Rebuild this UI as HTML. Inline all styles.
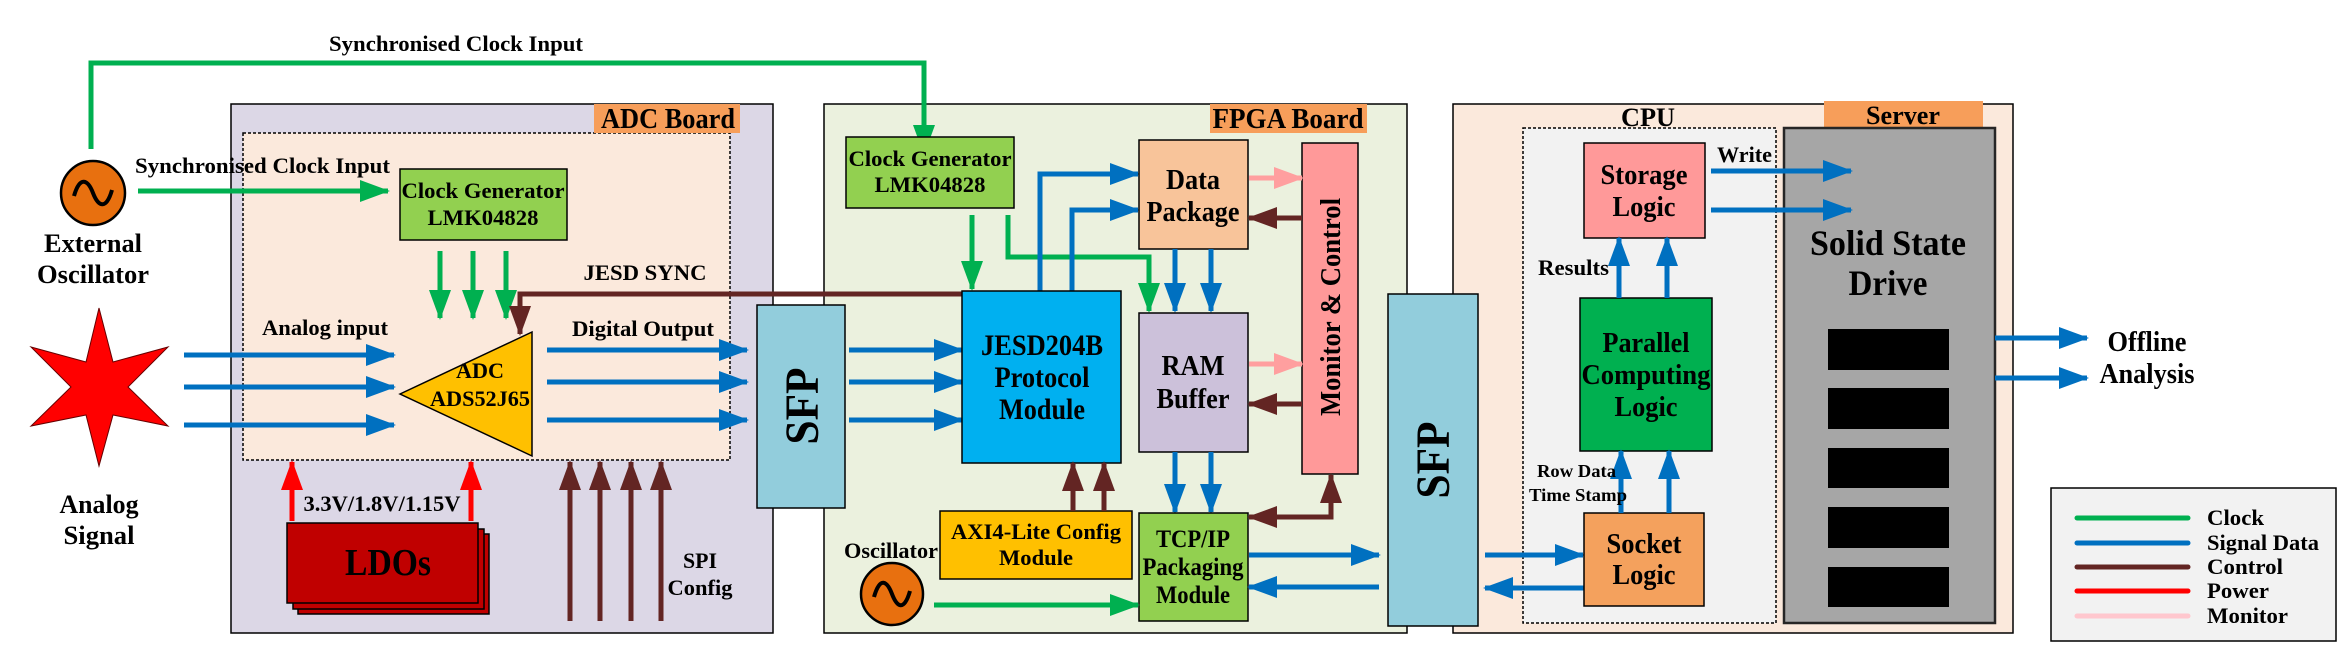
<!DOCTYPE html>
<html><head><meta charset="utf-8"><style>
html,body{margin:0;padding:0;background:#fff;}
svg{display:block;font-family:"Liberation Serif","Times New Roman",serif;}
svg text{font-family:"Liberation Serif","Times New Roman",serif !important;font-weight:bold;fill:#000;}
</style></head><body>
<svg width="2352" height="667" viewBox="0 0 2352 667" xmlns="http://www.w3.org/2000/svg" font-family="Liberation Serif, Times New Roman, serif" font-weight="bold">
<defs>
<marker id="g" markerUnits="userSpaceOnUse" markerWidth="30" markerHeight="22" refX="28" refY="11" orient="auto"><path d="M0,0L30,11L0,22z" fill="#00b050"/></marker>
<marker id="b" markerUnits="userSpaceOnUse" markerWidth="30" markerHeight="22" refX="28" refY="11" orient="auto"><path d="M0,0L30,11L0,22z" fill="#0070c0"/></marker>
<marker id="br" markerUnits="userSpaceOnUse" markerWidth="30" markerHeight="22" refX="28" refY="11" orient="auto"><path d="M0,0L30,11L0,22z" fill="#632523"/></marker>
<marker id="r" markerUnits="userSpaceOnUse" markerWidth="30" markerHeight="22" refX="28" refY="11" orient="auto"><path d="M0,0L30,11L0,22z" fill="#ff0000"/></marker>
<marker id="p" markerUnits="userSpaceOnUse" markerWidth="30" markerHeight="22" refX="28" refY="11" orient="auto"><path d="M0,0L30,11L0,22z" fill="#ff9f9f"/></marker>
</defs>

<rect x="231" y="104" width="542" height="529" fill="#dcd7e6" stroke="#000" stroke-width="1.5"/>
<rect x="243" y="133" width="487" height="327" fill="#fbe9dc" stroke="#000" stroke-width="1.5" stroke-dasharray="3,2"/>
<rect x="594" y="104" width="146" height="29" fill="#f79e5a"/>
<text x="668" y="128" font-size="28" text-anchor="middle" textLength="134" lengthAdjust="spacingAndGlyphs">ADC Board</text>

<rect x="824" y="104" width="583" height="529" fill="#ebf1de" stroke="#000" stroke-width="1.5"/>
<rect x="1210" y="104" width="157" height="29" fill="#f79e5a"/>
<text x="1288" y="128" font-size="28" text-anchor="middle" textLength="151" lengthAdjust="spacingAndGlyphs">FPGA Board</text>

<rect x="1453" y="104" width="560" height="529" fill="#fbe9dc" stroke="#000" stroke-width="1.5"/>
<rect x="1523" y="128" width="253" height="495" fill="#f2f2f2" stroke="#000" stroke-width="1.5" stroke-dasharray="3,2"/>
<text x="1648" y="126" font-size="26" text-anchor="middle" textLength="54" lengthAdjust="spacingAndGlyphs">CPU</text>
<rect x="1824" y="101" width="159" height="27" fill="#f79e5a"/>
<text x="1903" y="124" font-size="26" text-anchor="middle" textLength="74" lengthAdjust="spacingAndGlyphs">Server</text>

<polyline points="91,149 91,63 924,63 924,153" fill="none" stroke="#00b050" stroke-width="5" marker-end="url(#g)"/>
<text x="456" y="51" font-size="22" text-anchor="middle" textLength="254" lengthAdjust="spacingAndGlyphs">Synchronised Clock Input</text>

<circle cx="93" cy="193" r="32" fill="#e8700f" stroke="#000" stroke-width="2.5"/>
<path d="M74,196 C80,175 88,180 93,193 C98,206 106,211 112,190" fill="none" stroke="#000" stroke-width="4"/>
<text x="93" y="252" font-size="26" text-anchor="middle" textLength="98" lengthAdjust="spacingAndGlyphs">External</text>
<text x="93" y="283" font-size="26" text-anchor="middle" textLength="112" lengthAdjust="spacingAndGlyphs">Oscillator</text>
<line x1="138" y1="191" x2="388" y2="191" stroke="#00b050" stroke-width="5" marker-end="url(#g)"/>
<text x="135" y="173" font-size="22" textLength="255" lengthAdjust="spacingAndGlyphs">Synchronised Clock Input</text>

<rect x="400" y="169" width="167" height="71" fill="#92d050" stroke="#000" stroke-width="1.5"/>
<text x="483" y="198" font-size="22" text-anchor="middle" textLength="163" lengthAdjust="spacingAndGlyphs">Clock Generator</text>
<text x="483" y="225" font-size="22" text-anchor="middle" textLength="111" lengthAdjust="spacingAndGlyphs">LMK04828</text>
<line x1="440" y1="251" x2="440" y2="318" stroke="#00b050" stroke-width="5" marker-end="url(#g)"/>
<line x1="473" y1="251" x2="473" y2="318" stroke="#00b050" stroke-width="5" marker-end="url(#g)"/>
<line x1="506" y1="251" x2="506" y2="318" stroke="#00b050" stroke-width="5" marker-end="url(#g)"/>

<polygon points="99,308 113,362 168,347 128,387 168,426 113,415 99,466 86,415 31,426 71,387 31,347 86,362" fill="#ff0000" stroke="#600" stroke-width="1"/>
<text x="99" y="513" font-size="26" text-anchor="middle" textLength="79" lengthAdjust="spacingAndGlyphs">Analog</text>
<text x="99" y="544" font-size="26" text-anchor="middle" textLength="71" lengthAdjust="spacingAndGlyphs">Signal</text>

<line x1="184" y1="355" x2="394" y2="355" stroke="#0070c0" stroke-width="5" marker-end="url(#b)"/>
<line x1="184" y1="387" x2="394" y2="387" stroke="#0070c0" stroke-width="5" marker-end="url(#b)"/>
<line x1="184" y1="425" x2="394" y2="425" stroke="#0070c0" stroke-width="5" marker-end="url(#b)"/>
<text x="325" y="335" font-size="22" text-anchor="middle" textLength="126" lengthAdjust="spacingAndGlyphs">Analog input</text>

<polygon points="400,394 532,332 532,456" fill="#ffc000" stroke="#000" stroke-width="1.5"/>
<text x="480" y="378" font-size="22" text-anchor="middle" textLength="48" lengthAdjust="spacingAndGlyphs">ADC</text>
<text x="480" y="406" font-size="22" text-anchor="middle" textLength="100" lengthAdjust="spacingAndGlyphs">ADS52J65</text>

<polyline points="962,294 520,294 520,334" fill="none" stroke="#632523" stroke-width="5" marker-end="url(#br)"/>
<text x="645" y="280" font-size="22" text-anchor="middle" textLength="123" lengthAdjust="spacingAndGlyphs">JESD SYNC</text>

<line x1="547" y1="350" x2="747" y2="350" stroke="#0070c0" stroke-width="5" marker-end="url(#b)"/>
<line x1="547" y1="382" x2="747" y2="382" stroke="#0070c0" stroke-width="5" marker-end="url(#b)"/>
<line x1="547" y1="420" x2="747" y2="420" stroke="#0070c0" stroke-width="5" marker-end="url(#b)"/>
<text x="643" y="336" font-size="22" text-anchor="middle" textLength="142" lengthAdjust="spacingAndGlyphs">Digital Output</text>

<line x1="292" y1="521" x2="292" y2="462" stroke="#ff0000" stroke-width="5" marker-end="url(#r)"/>
<line x1="471" y1="521" x2="471" y2="462" stroke="#ff0000" stroke-width="5" marker-end="url(#r)"/>
<text x="382" y="511" font-size="22" text-anchor="middle" textLength="157" lengthAdjust="spacingAndGlyphs">3.3V/1.8V/1.15V</text>
<rect x="298" y="534" width="191" height="80" fill="#c00000" stroke="#000" stroke-width="1.5"/>
<rect x="293" y="529" width="191" height="80" fill="#c00000" stroke="#000" stroke-width="1.5"/>
<rect x="287" y="523" width="191" height="80" fill="#c00000" stroke="#000" stroke-width="1.5"/>
<text x="388" y="575" font-size="38" text-anchor="middle" textLength="86" lengthAdjust="spacingAndGlyphs">LDOs</text>

<line x1="570" y1="621" x2="570" y2="462" stroke="#632523" stroke-width="5" marker-end="url(#br)"/>
<line x1="600" y1="621" x2="600" y2="462" stroke="#632523" stroke-width="5" marker-end="url(#br)"/>
<line x1="631" y1="621" x2="631" y2="462" stroke="#632523" stroke-width="5" marker-end="url(#br)"/>
<line x1="661" y1="621" x2="661" y2="462" stroke="#632523" stroke-width="5" marker-end="url(#br)"/>
<text x="700" y="568" font-size="22" text-anchor="middle" textLength="34" lengthAdjust="spacingAndGlyphs">SPI</text>
<text x="700" y="595" font-size="22" text-anchor="middle" textLength="65" lengthAdjust="spacingAndGlyphs">Config</text>

<rect x="757" y="305" width="88" height="203" fill="#92cddc" stroke="#000" stroke-width="1.5"/>
<text transform="translate(818,406) rotate(-90)" x="0" y="0" font-size="48" text-anchor="middle" textLength="77" lengthAdjust="spacingAndGlyphs">SFP</text>

<rect x="846" y="137" width="168" height="71" fill="#92d050" stroke="#000" stroke-width="1.5"/>
<text x="930" y="166" font-size="22" text-anchor="middle" textLength="163" lengthAdjust="spacingAndGlyphs">Clock Generator</text>
<text x="930" y="192" font-size="22" text-anchor="middle" textLength="111" lengthAdjust="spacingAndGlyphs">LMK04828</text>
<line x1="972" y1="215" x2="972" y2="289" stroke="#00b050" stroke-width="5" marker-end="url(#g)"/>
<polyline points="1008,215 1008,257 1149,257 1149,311" fill="none" stroke="#00b050" stroke-width="5" marker-end="url(#g)"/>

<line x1="849" y1="350" x2="962" y2="350" stroke="#0070c0" stroke-width="5" marker-end="url(#b)"/>
<line x1="849" y1="382" x2="962" y2="382" stroke="#0070c0" stroke-width="5" marker-end="url(#b)"/>
<line x1="849" y1="420" x2="962" y2="420" stroke="#0070c0" stroke-width="5" marker-end="url(#b)"/>

<polyline points="1040,291 1040,174 1138,174" fill="none" stroke="#0070c0" stroke-width="5" marker-end="url(#b)"/>
<polyline points="1072,291 1072,210 1138,210" fill="none" stroke="#0070c0" stroke-width="5" marker-end="url(#b)"/>

<rect x="962" y="291" width="159" height="172" fill="#00b0f0" stroke="#000" stroke-width="1.5"/>
<text x="1042" y="355" font-size="30" text-anchor="middle" textLength="122" lengthAdjust="spacingAndGlyphs">JESD204B</text>
<text x="1042" y="387" font-size="30" text-anchor="middle" textLength="95" lengthAdjust="spacingAndGlyphs">Protocol</text>
<text x="1042" y="419" font-size="30" text-anchor="middle" textLength="86" lengthAdjust="spacingAndGlyphs">Module</text>

<rect x="1139" y="140" width="109" height="109" fill="#f8c49a" stroke="#000" stroke-width="1.5"/>
<text x="1193" y="189" font-size="28" text-anchor="middle" textLength="54" lengthAdjust="spacingAndGlyphs">Data</text>
<text x="1193" y="221" font-size="28" text-anchor="middle" textLength="93" lengthAdjust="spacingAndGlyphs">Package</text>

<line x1="1175" y1="249" x2="1175" y2="311" stroke="#0070c0" stroke-width="5" marker-end="url(#b)"/>
<line x1="1211" y1="249" x2="1211" y2="311" stroke="#0070c0" stroke-width="5" marker-end="url(#b)"/>

<rect x="1139" y="313" width="109" height="139" fill="#ccc1da" stroke="#000" stroke-width="1.5"/>
<text x="1193" y="375" font-size="28" text-anchor="middle" textLength="63" lengthAdjust="spacingAndGlyphs">RAM</text>
<text x="1193" y="408" font-size="28" text-anchor="middle" textLength="73" lengthAdjust="spacingAndGlyphs">Buffer</text>

<line x1="1175" y1="452" x2="1175" y2="512" stroke="#0070c0" stroke-width="5" marker-end="url(#b)"/>
<line x1="1211" y1="452" x2="1211" y2="512" stroke="#0070c0" stroke-width="5" marker-end="url(#b)"/>

<rect x="1139" y="513" width="109" height="108" fill="#92d050" stroke="#000" stroke-width="1.5"/>
<text x="1193" y="547" font-size="25" text-anchor="middle" textLength="74" lengthAdjust="spacingAndGlyphs">TCP/IP</text>
<text x="1193" y="575" font-size="25" text-anchor="middle" textLength="101" lengthAdjust="spacingAndGlyphs">Packaging</text>
<text x="1193" y="603" font-size="25" text-anchor="middle" textLength="74" lengthAdjust="spacingAndGlyphs">Module</text>

<rect x="1302" y="143" width="56" height="331" fill="#ff9999" stroke="#000" stroke-width="1.5"/>
<text transform="translate(1340,307) rotate(-90)" x="0" y="0" font-size="28" text-anchor="middle" textLength="218" lengthAdjust="spacingAndGlyphs">Monitor &amp; Control</text>

<line x1="1249" y1="178" x2="1302" y2="178" stroke="#ff9f9f" stroke-width="5" marker-end="url(#p)"/>
<line x1="1302" y1="218" x2="1249" y2="218" stroke="#632523" stroke-width="5" marker-end="url(#br)"/>
<line x1="1249" y1="364" x2="1302" y2="364" stroke="#ff9f9f" stroke-width="5" marker-end="url(#p)"/>
<line x1="1302" y1="404" x2="1249" y2="404" stroke="#632523" stroke-width="5" marker-end="url(#br)"/>
<polyline points="1331,500 1331,517 1249,517" fill="none" stroke="#632523" stroke-width="5" marker-end="url(#br)"/>
<line x1="1331" y1="505" x2="1331" y2="475" stroke="#632523" stroke-width="5" marker-end="url(#br)"/>

<rect x="940" y="511" width="192" height="68" fill="#ffc000" stroke="#000" stroke-width="1.5"/>
<text x="1036" y="539" font-size="22" text-anchor="middle" textLength="170" lengthAdjust="spacingAndGlyphs">AXI4-Lite Config</text>
<text x="1036" y="565" font-size="22" text-anchor="middle" textLength="74" lengthAdjust="spacingAndGlyphs">Module</text>
<line x1="1073" y1="511" x2="1073" y2="463" stroke="#632523" stroke-width="5" marker-end="url(#br)"/>
<line x1="1104" y1="511" x2="1104" y2="463" stroke="#632523" stroke-width="5" marker-end="url(#br)"/>

<text x="891" y="558" font-size="22" text-anchor="middle" textLength="94" lengthAdjust="spacingAndGlyphs">Oscillator</text>
<circle cx="892" cy="594" r="31" fill="#e8700f" stroke="#000" stroke-width="2.5"/>
<path d="M874,597 C880,576 887,581 892,594 C897,607 904,612 910,591" fill="none" stroke="#000" stroke-width="4"/>
<line x1="934" y1="605" x2="1138" y2="605" stroke="#00b050" stroke-width="5" marker-end="url(#g)"/>

<line x1="1249" y1="555" x2="1379" y2="555" stroke="#0070c0" stroke-width="5" marker-end="url(#b)"/>
<line x1="1379" y1="587" x2="1249" y2="587" stroke="#0070c0" stroke-width="5" marker-end="url(#b)"/>

<rect x="1388" y="294" width="90" height="332" fill="#92cddc" stroke="#000" stroke-width="1.5"/>
<text transform="translate(1449,460) rotate(-90)" x="0" y="0" font-size="48" text-anchor="middle" textLength="77" lengthAdjust="spacingAndGlyphs">SFP</text>

<line x1="1485" y1="555" x2="1583" y2="555" stroke="#0070c0" stroke-width="5" marker-end="url(#b)"/>
<line x1="1586" y1="588" x2="1485" y2="588" stroke="#0070c0" stroke-width="5" marker-end="url(#b)"/>

<rect x="1584" y="143" width="121" height="95" fill="#ff9999" stroke="#000" stroke-width="1.5"/>
<text x="1644" y="184" font-size="28" text-anchor="middle" textLength="87" lengthAdjust="spacingAndGlyphs">Storage</text>
<text x="1644" y="216" font-size="28" text-anchor="middle" textLength="63" lengthAdjust="spacingAndGlyphs">Logic</text>

<rect x="1580" y="298" width="132" height="153" fill="#00b050" stroke="#000" stroke-width="1.5"/>
<text x="1646" y="352" font-size="28" text-anchor="middle" textLength="87" lengthAdjust="spacingAndGlyphs">Parallel</text>
<text x="1646" y="384" font-size="28" text-anchor="middle" textLength="129" lengthAdjust="spacingAndGlyphs">Computing</text>
<text x="1646" y="416" font-size="28" text-anchor="middle" textLength="63" lengthAdjust="spacingAndGlyphs">Logic</text>

<rect x="1584" y="513" width="120" height="93" fill="#f4a15d" stroke="#000" stroke-width="1.5"/>
<text x="1644" y="553" font-size="28" text-anchor="middle" textLength="75" lengthAdjust="spacingAndGlyphs">Socket</text>
<text x="1644" y="584" font-size="28" text-anchor="middle" textLength="63" lengthAdjust="spacingAndGlyphs">Logic</text>

<line x1="1619" y1="298" x2="1619" y2="238" stroke="#0070c0" stroke-width="5" marker-end="url(#b)"/>
<line x1="1667" y1="298" x2="1667" y2="238" stroke="#0070c0" stroke-width="5" marker-end="url(#b)"/>
<line x1="1621" y1="513" x2="1621" y2="451" stroke="#0070c0" stroke-width="5" marker-end="url(#b)"/>
<line x1="1669" y1="513" x2="1669" y2="451" stroke="#0070c0" stroke-width="5" marker-end="url(#b)"/>

<text x="1538" y="275" font-size="22" textLength="71" lengthAdjust="spacingAndGlyphs">Results</text>
<text x="1537" y="477" font-size="18" textLength="79" lengthAdjust="spacingAndGlyphs">Row Data</text>
<text x="1529" y="501" font-size="18" textLength="98" lengthAdjust="spacingAndGlyphs">Time Stamp</text>

<rect x="1784" y="128" width="211" height="495" fill="#a6a6a6" stroke="#262626" stroke-width="2.5"/>
<text x="1888" y="255" font-size="36" text-anchor="middle" textLength="156" lengthAdjust="spacingAndGlyphs">Solid State</text>
<text x="1888" y="295" font-size="36" text-anchor="middle" textLength="79" lengthAdjust="spacingAndGlyphs">Drive</text>
<rect x="1828" y="329" width="121" height="41" fill="#000"/>
<rect x="1828" y="388" width="121" height="41" fill="#000"/>
<rect x="1828" y="448" width="121" height="40" fill="#000"/>
<rect x="1828" y="507" width="121" height="41" fill="#000"/>
<rect x="1828" y="567" width="121" height="40" fill="#000"/>

<line x1="1711" y1="171" x2="1851" y2="171" stroke="#0070c0" stroke-width="5" marker-end="url(#b)"/>
<line x1="1711" y1="210" x2="1851" y2="210" stroke="#0070c0" stroke-width="5" marker-end="url(#b)"/>
<text x="1717" y="162" font-size="22" textLength="55" lengthAdjust="spacingAndGlyphs">Write</text>

<line x1="1995" y1="338" x2="2087" y2="338" stroke="#0070c0" stroke-width="5" marker-end="url(#b)"/>
<line x1="1995" y1="378" x2="2087" y2="378" stroke="#0070c0" stroke-width="5" marker-end="url(#b)"/>
<text x="2147" y="351" font-size="28" text-anchor="middle" textLength="79" lengthAdjust="spacingAndGlyphs">Offline</text>
<text x="2147" y="383" font-size="28" text-anchor="middle" textLength="95" lengthAdjust="spacingAndGlyphs">Analysis</text>

<rect x="2051" y="488" width="285" height="153" fill="#f2f2f2" stroke="#000" stroke-width="1.5"/>
<line x1="2077" y1="518" x2="2188" y2="518" stroke="#00b050" stroke-width="5" stroke-linecap="round"/>
<line x1="2077" y1="543" x2="2188" y2="543" stroke="#0070c0" stroke-width="5" stroke-linecap="round"/>
<line x1="2077" y1="567" x2="2188" y2="567" stroke="#632523" stroke-width="5" stroke-linecap="round"/>
<line x1="2077" y1="591" x2="2188" y2="591" stroke="#ff0000" stroke-width="5" stroke-linecap="round"/>
<line x1="2077" y1="616" x2="2188" y2="616" stroke="#ffc7ce" stroke-width="5" stroke-linecap="round"/>
<text x="2207" y="525" font-size="22" textLength="57" lengthAdjust="spacingAndGlyphs">Clock</text>
<text x="2207" y="550" font-size="22" textLength="112" lengthAdjust="spacingAndGlyphs">Signal Data</text>
<text x="2207" y="574" font-size="22" textLength="76" lengthAdjust="spacingAndGlyphs">Control</text>
<text x="2207" y="598" font-size="22" textLength="62" lengthAdjust="spacingAndGlyphs">Power</text>
<text x="2207" y="623" font-size="22" textLength="81" lengthAdjust="spacingAndGlyphs">Monitor</text>
</svg>
</body></html>
